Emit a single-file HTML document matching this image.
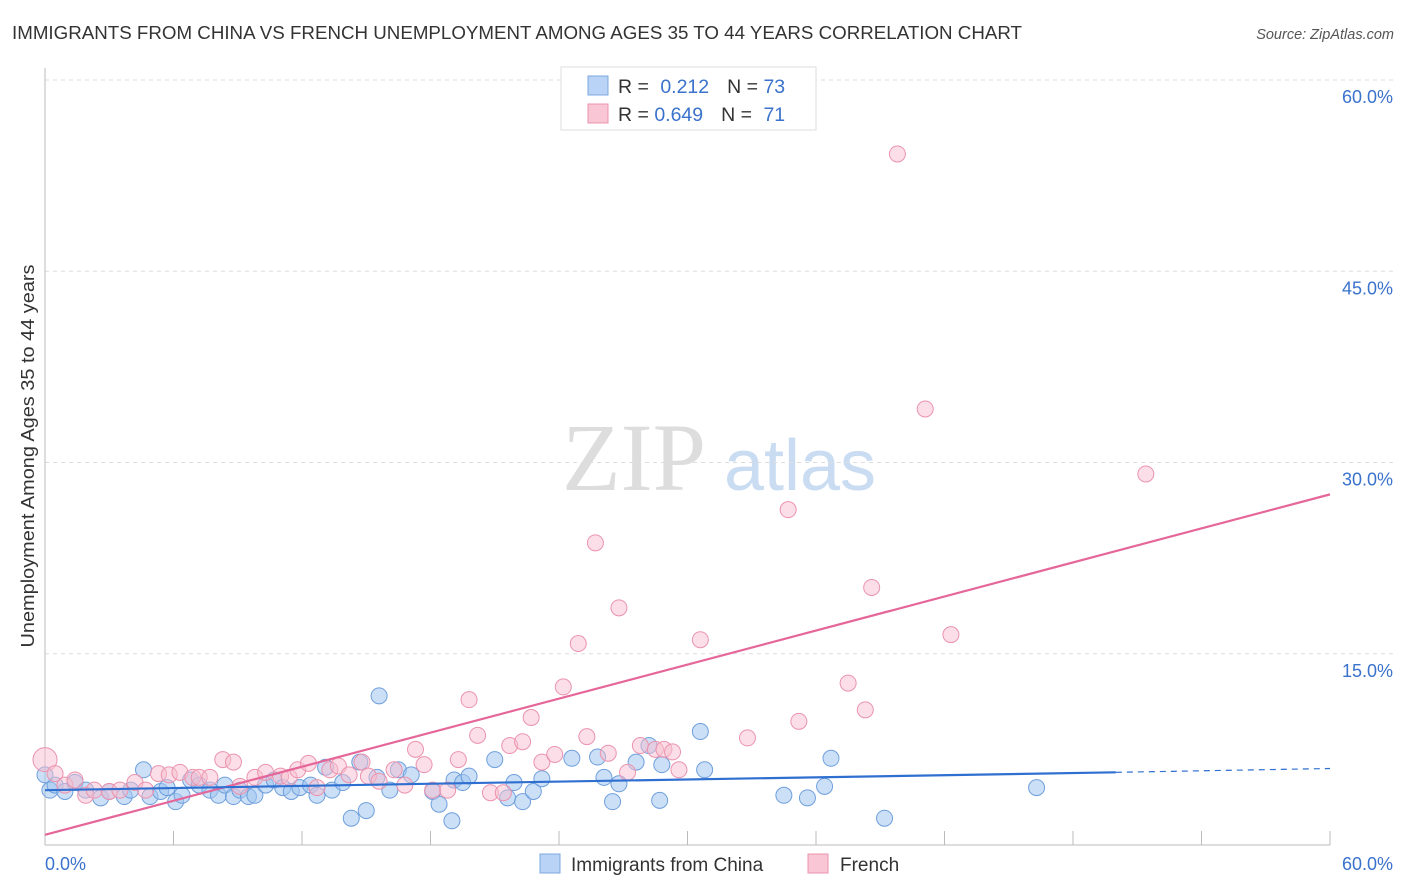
<!DOCTYPE html>
<html><head><meta charset="utf-8"><style>
body{margin:0;background:#fff;font-family:"Liberation Sans",sans-serif;}
svg{display:block}
</style></head><body>
<svg id="chart" width="1406" height="892" xmlns="http://www.w3.org/2000/svg">
<text x="12" y="39" font-size="18" fill="#333" textLength="1010" lengthAdjust="spacingAndGlyphs">IMMIGRANTS FROM CHINA VS FRENCH UNEMPLOYMENT AMONG AGES 35 TO 44 YEARS CORRELATION CHART</text>
<text x="1394" y="39" font-size="14.5" fill="#555" font-style="italic" text-anchor="end">Source: ZipAtlas.com</text>
<text x="34" y="456" font-size="18" fill="#333" text-anchor="middle" textLength="383" lengthAdjust="spacingAndGlyphs" transform="rotate(-90 34 456)">Unemployment Among Ages 35 to 44 years</text>
<g><text x="634" y="490" font-size="96" font-family="Liberation Serif,serif" fill="#ddd" text-anchor="middle">ZIP</text><text x="800" y="490" font-size="72" fill="#c9dcf2" text-anchor="middle">atlas</text></g>
<g id="grid"></g><g id="axes"></g><g id="pts"></g><g id="lines"></g>
<g>
<rect x="561" y="67" width="255" height="63" fill="#fff" stroke="#ddd"/>
<rect x="588" y="76" width="20" height="19" fill="#b8d3f5" stroke="#7ea7e0"/>
<rect x="588" y="104" width="20" height="19" fill="#f9c6d5" stroke="#eb93ae"/>
<text x="618" y="93" font-size="19.5" fill="#333">R = <tspan fill="#3a72cc" dx="6">0.212</tspan><tspan fill="#333" dx="18">N = </tspan><tspan fill="#3a72cc">73</tspan></text>
<text x="618" y="121" font-size="19.5" fill="#333">R = <tspan fill="#3a72cc">0.649</tspan><tspan fill="#333" dx="18">N = </tspan><tspan fill="#3a72cc" dx="6">71</tspan></text>
</g>
<g>
<rect x="540" y="854" width="20" height="19" fill="#b8d3f5" stroke="#7ea7e0"/>
<text x="571" y="871" font-size="19" fill="#333">Immigrants from China</text>
<rect x="808" y="854" width="20" height="19" fill="#f9c6d5" stroke="#eb93ae"/>
<text x="840" y="871" font-size="19" fill="#333">French</text>
</g>
</svg>
<script>
const yTicks=[15,30,45,60];
const xTickLabels=["0.0%","60.0%"];
const chinaX=[0.23,0.47,0.93,1.4,1.9,2.6,3.0,3.7,4.0,4.6,4.9,5.4,5.7,6.1,6.4,6.8,7.2,7.7,8.1,8.4,8.8,9.1,9.5,9.8,10.3,10.7,11.1,11.5,11.9,12.4,12.7,13.1,13.4,13.9,14.3,14.7,15.0,15.5,16.1,16.5,17.1,18.1,18.4,19.1,19.5,19.8,21.0,21.6,21.9,22.3,22.8,23.2,24.6,25.8,26.1,26.5,26.8,27.6,28.2,28.7,28.8,30.6,30.8,34.5,35.6,36.4,36.7,39.2,46.3,15.6,19.0,0];
const chinaY=[4.3,4.7,4.2,4.9,4.3,3.7,4.2,3.8,4.3,5.9,3.8,4.2,4.5,3.4,3.9,5.1,4.7,4.3,3.9,4.7,3.8,4.3,3.8,3.9,4.7,5.1,4.5,4.2,4.5,4.7,3.9,6.1,4.3,4.9,2.1,6.5,2.7,5.3,4.3,5.9,5.5,4.2,3.2,5.1,4.9,5.4,6.7,3.7,4.9,3.4,4.2,5.2,6.8,6.9,5.3,3.4,4.8,6.5,7.8,3.5,6.3,8.9,5.9,3.9,3.7,4.6,6.8,2.1,4.5,11.7,1.9,5.5];
const frenchX=[0,0.47,0.93,1.4,1.9,2.3,3.0,3.5,4.2,4.7,5.3,5.8,6.3,6.9,7.2,7.7,8.3,8.8,9.1,9.8,10.3,11.0,11.4,11.8,12.3,12.7,13.3,13.7,14.2,14.8,15.1,15.6,16.3,16.8,17.3,17.7,18.1,18.8,19.3,19.8,20.2,20.8,21.4,21.7,22.3,22.7,23.2,23.8,24.2,24.9,25.3,25.7,26.3,26.8,27.2,27.8,28.5,28.9,29.3,29.6,30.6,32.8,34.7,35.2,37.5,38.3,38.6,39.8,41.1,42.3,51.4];
const frenchY=[6.7,5.6,4.7,5.1,3.9,4.3,4.2,4.3,4.9,4.3,5.6,5.5,5.7,5.3,5.3,5.3,6.7,6.5,4.6,5.3,5.7,5.4,5.3,5.9,6.4,4.5,5.9,6.2,5.5,6.5,5.4,5.0,5.9,4.7,7.5,6.3,4.3,4.3,6.7,11.4,8.6,4.1,4.1,7.8,8.1,10.0,6.5,7.1,12.4,15.8,8.5,23.7,7.2,18.6,5.7,7.8,7.5,7.5,7.3,5.9,16.1,8.4,26.3,9.7,12.7,10.6,20.2,54.2,34.2,16.5,29.1];
const chinaTrend=[4.3,5.7,6.0]; const chinaTrendX=[0,50,60];
const frenchTrend=[0.8,27.5]; const frenchTrendX=[0,60];
const NS="http://www.w3.org/2000/svg";
const sx=v=>45+v*(1285/60), sy=v=>845-v*(765/60);
function mk(t,a,p){const e=document.createElementNS(NS,t);for(const k in a)e.setAttribute(k,a[k]);document.getElementById(p).appendChild(e);return e;}
yTicks.forEach(t=>{
 const l=mk('line',{x1:45,x2:1394,y1:sy(t),y2:sy(t),stroke:'#ddd','stroke-dasharray':'4,4'},'grid');
 
 
 const tx=mk('text',{x:1393,y:sy(t)+23,'font-size':18,fill:'#3a72cc','text-anchor':'end'},'grid');
 tx.textContent=t.toFixed(1)+'%';
 
 
});
mk('line',{x1:45,x2:45,y1:68,y2:845,stroke:'#bbb'},'axes');
mk('line',{x1:45,x2:1330,y1:845,y2:845,stroke:'#bbb'},'axes');
for(let i=0;i<=10;i++){const x=sx(i*6);mk('line',{x1:x,x2:x,y1:831,y2:845,stroke:'#bbb'},'axes');}
const xl0=mk('text',{x:45,y:870,'font-size':18,fill:'#3a72cc'},'axes');xl0.textContent=xTickLabels[0];


const xl1=mk('text',{x:1393,y:870,'font-size':18,fill:'#3a72cc','text-anchor':'end'},'axes');xl1.textContent=xTickLabels[1];


chinaX.forEach((v,i)=>{const c=mk('circle',{cx:sx(v),cy:sy(chinaY[i]),r:8,fill:'rgba(160,196,240,0.55)',stroke:'#6f9fdc','stroke-width':1},'pts');
 
 });
frenchX.forEach((v,i)=>{const c=mk('circle',{cx:sx(v),cy:sy(frenchY[i]),r:i==0?12:8,fill:'rgba(248,190,208,0.5)',stroke:'#eb93ae','stroke-width':1},'pts');
 
 });
const fl=mk('line',{x1:sx(frenchTrendX[0]),y1:sy(frenchTrend[0]),x2:sx(frenchTrendX[1]),y2:sy(frenchTrend[1]),stroke:'#e5679a','stroke-width':2.2},'lines');


const cl=mk('line',{x1:sx(chinaTrendX[0]),y1:sy(chinaTrend[0]),x2:sx(chinaTrendX[1]),y2:sy(chinaTrend[1]),stroke:'#2f6fd0','stroke-width':2.2},'lines');


const cd=mk('line',{x1:sx(chinaTrendX[1]),y1:sy(chinaTrend[1]),x2:sx(chinaTrendX[2]),y2:sy(chinaTrend[2]),stroke:'#2f6fd0','stroke-width':1.2,'stroke-dasharray':'6,5'},'lines');


</script>
</body></html>
